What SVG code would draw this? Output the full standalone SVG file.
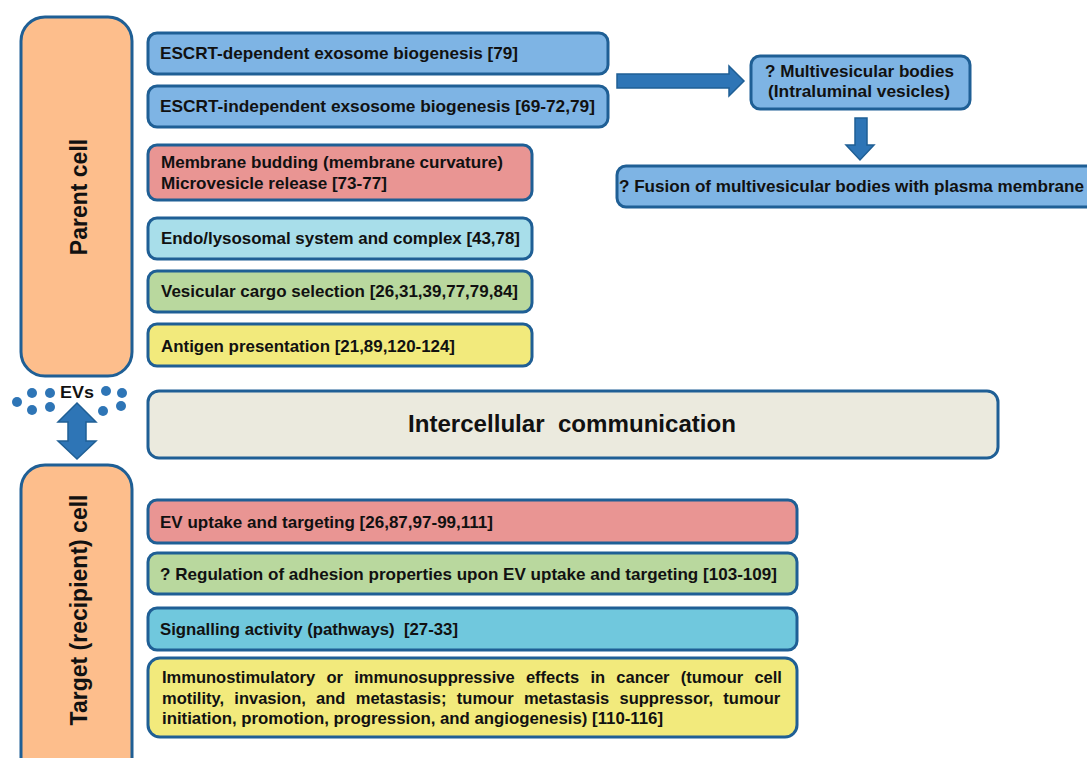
<svg xmlns="http://www.w3.org/2000/svg" width="1087" height="758" viewBox="0 0 1087 758">
<style>
.b{stroke:#1F5F95;stroke-width:3}
.t{font-family:"Liberation Sans",Arial,sans-serif;font-weight:bold;font-size:17px;fill:#111}
.blue{fill:#7EB4E4}.red{fill:#E99593}.cyan{fill:#A8DEEA}.green{fill:#B9D89E}.yellow{fill:#F2EA7C}.sig{fill:#70C8DD}.cream{fill:#EBEADE}.orange{fill:#FDBE8C}
.arr{fill:#2E75B6;stroke:#1F5F95;stroke-width:1.5}
.dot{fill:#2E75B6}
</style>
<rect width="1087" height="758" fill="#fff"/>
<g id="parent-cell">
<rect class="b orange" x="21" y="17" width="111" height="359" rx="24"/>
<text class="t" style="font-size:23px" transform="translate(87,197) rotate(-90)" text-anchor="middle">Parent cell</text>
</g>
<g id="target-cell">
<rect class="b orange" x="21" y="465" width="111" height="320" rx="24"/>
<text class="t" style="font-size:23px" transform="translate(87,610) rotate(-90)" text-anchor="middle">Target (recipient) cell</text>
</g>
<g id="evs">
<circle class="dot" cx="17" cy="402" r="5"/>
<circle class="dot" cx="32" cy="393" r="5"/>
<circle class="dot" cx="50" cy="393" r="5"/>
<circle class="dot" cx="32" cy="410" r="5"/>
<circle class="dot" cx="50" cy="407" r="5"/>
<circle class="dot" cx="106" cy="391" r="5"/>
<circle class="dot" cx="122" cy="393" r="5"/>
<circle class="dot" cx="103" cy="411" r="5"/>
<circle class="dot" cx="121" cy="406" r="5"/>
<text class="t" x="60" y="398" textLength="34" lengthAdjust="spacingAndGlyphs">EVs</text>
</g>
<g id="n1"><rect class="b blue" x="148" y="33" width="460" height="41" rx="9"/>
<text class="t" x="160" y="59" textLength="358" lengthAdjust="spacingAndGlyphs">ESCRT-dependent exosome biogenesis [79]</text></g>
<g id="n2"><rect class="b blue" x="148" y="86" width="460" height="41" rx="9"/>
<text class="t" x="160" y="112" textLength="435" lengthAdjust="spacingAndGlyphs">ESCRT-independent exsosome biogenesis [69-72,79]</text></g>
<g id="n3"><rect class="b red" x="148" y="145" width="384" height="55" rx="9"/>
<text class="t" x="161" y="168" textLength="342" lengthAdjust="spacingAndGlyphs">Membrane budding (membrane curvature)</text>
<text class="t" x="161" y="189" textLength="226" lengthAdjust="spacingAndGlyphs">Microvesicle release [73-77]</text></g>
<g id="n4"><rect class="b cyan" x="148" y="218" width="384" height="41" rx="9"/>
<text class="t" x="161" y="244" textLength="359" lengthAdjust="spacingAndGlyphs">Endo/lysosomal system and complex [43,78]</text></g>
<g id="n5"><rect class="b green" x="148" y="271" width="384" height="41" rx="9"/>
<text class="t" x="161" y="297" textLength="357" lengthAdjust="spacingAndGlyphs">Vesicular cargo selection [26,31,39,77,79,84]</text></g>
<g id="n6"><rect class="b yellow" x="148" y="324" width="384" height="42" rx="9"/>
<text class="t" x="161" y="352" textLength="294" lengthAdjust="spacingAndGlyphs">Antigen presentation [21,89,120-124]</text></g>
<g id="mvb"><rect class="b blue" x="751" y="56" width="219" height="53" rx="9"/>
<text class="t" x="765" y="77" textLength="189" lengthAdjust="spacingAndGlyphs">? Multivesicular bodies</text>
<text class="t" x="768" y="97" textLength="182" lengthAdjust="spacingAndGlyphs">(Intraluminal vesicles)</text></g>
<g id="fusion"><rect class="b blue" x="617" y="166" width="490" height="41" rx="9"/>
<text class="t" x="619" y="192" textLength="465" lengthAdjust="spacingAndGlyphs">? Fusion of multivesicular bodies with plasma membrane</text></g>
<g id="intercellular"><rect class="b cream" x="148" y="391" width="850" height="67" rx="11"/>
<text class="t" style="font-size:23px" xml:space="preserve" x="408" y="432" textLength="328" lengthAdjust="spacingAndGlyphs">Intercellular  communication</text></g>
<g id="t1"><rect class="b red" x="148" y="500" width="649" height="43" rx="9"/>
<text class="t" x="160" y="528" textLength="333" lengthAdjust="spacingAndGlyphs">EV uptake and targeting [26,87,97-99,111]</text></g>
<g id="t2"><rect class="b green" x="148" y="553" width="649" height="41" rx="9"/>
<text class="t" x="160" y="580" textLength="617" lengthAdjust="spacingAndGlyphs">? Regulation of adhesion properties upon EV uptake and targeting [103-109]</text></g>
<g id="t3"><rect class="b sig" x="148" y="608" width="649" height="42" rx="9"/>
<text class="t" xml:space="preserve" x="160" y="635" textLength="298" lengthAdjust="spacingAndGlyphs">Signalling activity (pathways)  [27-33]</text></g>
<g id="t4"><rect class="b yellow" x="148" y="658" width="649" height="79" rx="12"/>
<text class="t" style="font-size:16.5px;word-spacing:6.7px" x="162" y="683">Immunostimulatory or immunosuppressive effects in cancer (tumour cell</text>
<text class="t" style="font-size:16.5px;word-spacing:5.7px" x="162" y="704">motility, invasion, and metastasis; tumour metastasis suppressor, tumour</text>
<text class="t" style="font-size:16.5px" x="162" y="724" textLength="501" lengthAdjust="spacingAndGlyphs">initiation, promotion, progression, and angiogenesis) [110-116]</text>
</g>
<g id="connectors">
<polygon class="arr" points="617,74 729,74 729,66 744,81 729,96 729,88 617,88"/>
<polygon class="arr" points="855,118 867,118 867,145 874,145 860,160 846,145 855,145"/>
<polygon class="arr" points="77,403 96,422 86,422 86,441 96,441 77,459 58,441 68,441 68,422 58,422"/>
</g>
</svg>
